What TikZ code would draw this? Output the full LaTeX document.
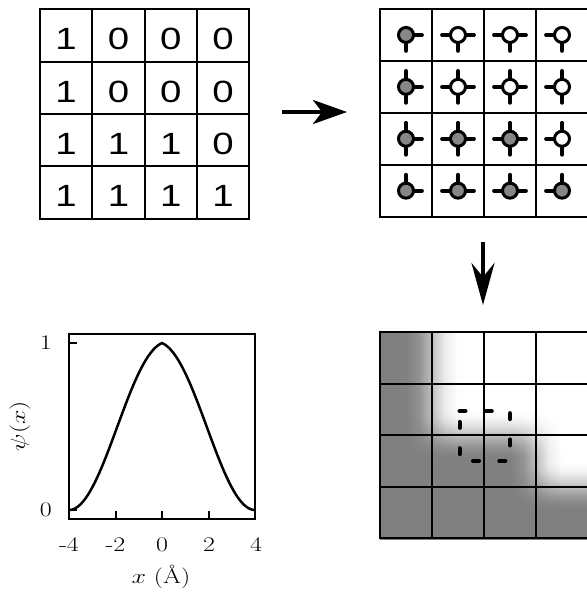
\documentclass[tikz,border=0pt]{standalone}
\usepackage{fontspec}
\usepackage{graphicx}
\usetikzlibrary{arrows.meta}
\newfontfamily\digitfont{Liberation Sans}
\definecolor{fill0}{gray}{1}
\definecolor{fill1}{gray}{0.53}
\begin{document}
\begin{tikzpicture}[x=1pt,y=-1pt,
  digitcell/.style={draw,line width=2pt,minimum width=52.3pt,minimum height=52.3pt,inner sep=0pt,text height=29pt,text depth=0pt,font=\digitfont\fontsize{30.7}{34}\selectfont},
  emptycell/.style={draw,line width=2pt,inner sep=0pt,minimum width=52pt},
  atom/.style={circle,draw,line width=3pt,minimum size=15pt,inner sep=0pt},
  spoke/.style={line width=3.7pt,line cap=round},
  bigarrow/.style={line width=4pt},
  plotlabel/.style={font=\fontsize{20.74}{24}\selectfont,inner sep=0pt},
  axisline/.style={line width=2pt},
  ringpath/.style={line width=4pt,line cap=round,dash pattern=on 6pt off 20.3pt}
]
\useasboundingbox (0,0) rectangle (587,598);

% ---------- left grid of digits ----------
\foreach \row [count=\j from 0] in {{1,0,0,0},{1,0,0,0},{1,1,1,0},{1,1,1,1}}{
  \foreach \d [count=\i from 0] in \row {
    \node[digitcell] (a-\i-\j) at ({66.15+52.3*\i},{35.45+52.3*\j}) {\scalebox{1.25}[1]{\d}};
  }
}

% ---------- top right grid of atoms ----------
\foreach \row [count=\j from 0] in {{1,0,0,0},{1,0,0,0},{1,1,1,0},{1,1,1,1}}{
  \foreach \d [count=\i from 0] in \row {
    \node[emptycell,minimum height=51.9pt] (b-\i-\j) at ({406+52*\i},{34.95+51.9*\j}) {};
    \coordinate (p-\i-\j) at (b-\i-\j.center);
    \ifnum\i>0 \draw[spoke] (p-\i-\j) -- ++(-16,0);\fi
    \ifnum\i<3 \draw[spoke] (p-\i-\j) -- ++(16,0);\fi
    \ifnum\j>0 \draw[spoke] (p-\i-\j) -- ++(0,-16);\fi
    \ifnum\j<3 \draw[spoke] (p-\i-\j) -- ++(0,16);\fi
    \node[atom,fill=fill\d] (c-\i-\j) at (p-\i-\j) {};
  }
}

% ---------- bottom right smoothed field ----------
\foreach \k in {0,...,206}{
  \pgfmathsetmacro{\yy}{332+\k}
  \pgfmathsetmacro{\sa}{min(max((\yy+0.75-409.4)/51.6,0),1)}
  \pgfmathsetmacro{\ca}{(1-cos(180*\sa))/2}
  \pgfmathsetmacro{\sb}{min(max((\yy+0.75-461)/51.6,0),1)}
  \pgfmathsetmacro{\cb}{(1-cos(180*\sb))/2}
  \pgfmathsetmacro{\pa}{1-0.5*(1+(\ca-1)*0.1464)}
  \pgfmathsetmacro{\pb}{1-0.5*(1+(\ca-1)*0.5)}
  \pgfmathsetmacro{\pc}{1-0.5*(1+(\ca-1)*0.8536)}
  \pgfmathsetmacro{\pd}{1-0.5*\ca}
  \pgfmathsetmacro{\pe}{1-0.5*(\ca+(\cb-\ca)*0.1464)}
  \pgfmathsetmacro{\pf}{1-0.5*(\ca+(\cb-\ca)*0.5)}
  \pgfmathsetmacro{\pg}{1-0.5*(\ca+(\cb-\ca)*0.8536)}
  \pgfmathsetmacro{\ph}{1-0.5*\cb}
  \edef\temp{\noexpand\pgfdeclarehorizontalshading{strip\k}{100bp}{%
    rgb(0bp)=(0.5,0.5,0.5); rgb(31.25bp)=(0.5,0.5,0.5);
    rgb(34.375bp)=(\pa,\pa,\pa); rgb(37.5bp)=(\pb,\pb,\pb);
    rgb(40.625bp)=(\pc,\pc,\pc); rgb(43.75bp)=(\pd,\pd,\pd);
    rgb(56.25bp)=(\pd,\pd,\pd); rgb(59.375bp)=(\pe,\pe,\pe);
    rgb(62.5bp)=(\pf,\pf,\pf); rgb(65.625bp)=(\pg,\pg,\pg);
    rgb(68.75bp)=(\ph,\ph,\ph); rgb(100bp)=(\ph,\ph,\ph)}}%
  \temp
  \shade[shading=strip\k] (380,\yy) rectangle (588,{\yy+1.5});
}
\foreach \j in {0,...,3}{
  \foreach \i in {0,...,3}{
    \node[emptycell,minimum height=51.6pt] (s-\i-\j) at ({406+52*\i},{357.8+51.6*\j}) {};
  }
}
\coordinate (q1) at (459.5,411);
\coordinate (q2) at (510,411);
\coordinate (q3) at (510,461);
\coordinate (q4) at (459.5,461);
\draw[ringpath] (q1) -- (q2) -- (q3) -- (q4) -- cycle;

% ---------- arrows ----------
\coordinate (ra1) at (282,112);
\coordinate (ra2) at (347,112);
\draw[bigarrow,-{Stealth[length=34pt,width=24pt,inset=9pt]}] (ra1) -- (ra2);
\coordinate (da1) at (483,242);
\coordinate (da2) at (483,305);
\draw[bigarrow,-{Stealth[length=42pt,width=23pt,inset=14pt]}] (da1) -- (da2);

% ---------- plot ----------
\draw[axisline] (69,334) rectangle (255,519);
\draw[axisline] (69,343) -- (77,343);
\draw[axisline] (69,510) -- (77,510);
\foreach \t in {115.5,162,208.5}{
  \draw[axisline] (\t,519) -- (\t,511);
}
\draw[line width=2.5pt,line join=round] plot[domain=-4:4,samples=81,variable=\x]
  ({162+23.25*\x},{510-167*(cos(22.5*\x)^2-0.06*abs(\x)*(1-abs(\x)/4)^2)});
\node[plotlabel,anchor=east] (yt1) at (52,343) {\scalebox{1.25}[1]{1}};
\node[plotlabel,anchor=east] (yt0) at (52,510) {\scalebox{1.25}[1]{0}};
\node[plotlabel] (xtm4) at (69,545) {\scalebox{1.25}[1]{-4}};
\node[plotlabel] (xtm2) at (115.5,545) {\scalebox{1.25}[1]{-2}};
\node[plotlabel] (xt0) at (162,545) {\scalebox{1.25}[1]{0}};
\node[plotlabel] (xt2) at (209,545) {\scalebox{1.25}[1]{2}};
\node[plotlabel] (xt4) at (256,545) {\scalebox{1.25}[1]{4}};
\node[plotlabel] (xlab) at (161,577) {\scalebox{1.25}[1]{$x$ (\AA)}};
\node[plotlabel,rotate=90] (ylab) at (20,426) {\scalebox{1.25}[1]{$\psi(x)$}};
\end{tikzpicture}
\end{document}
